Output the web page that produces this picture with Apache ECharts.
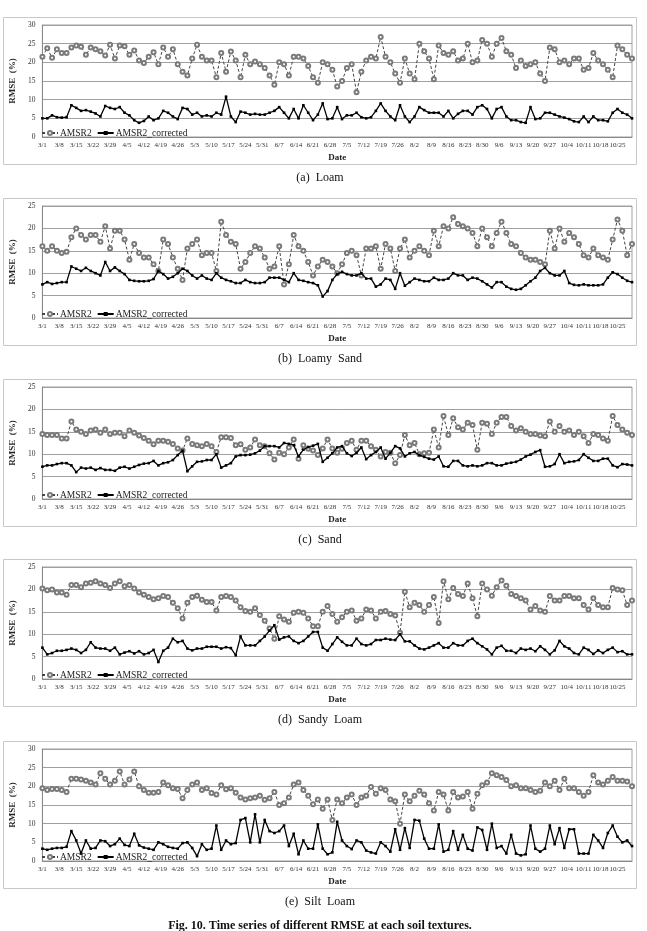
<!DOCTYPE html>
<html>
<head>
<meta charset="utf-8">
<title>Fig. 10 RMSE time series</title>
<script src="https://cdn.jsdelivr.net/npm/echarts@6/dist/echarts.min.js"></script>
<style>
  html, body { margin: 0; padding: 0; background: #fff; }
  #main { width: 647px; height: 931px; }
</style>
</head>
<body>
<div id="main"></div>
<script>
// one value every 2 days, starting 3/1 (day 0) and ending 10/31 (day 244)
var DAY_STEP = 2;

var loamAmsr = [21.5,23.8,21.2,23.5,22.5,22.5,24,24.5,24.2,22,
  24,23.5,23,21.8,24.7,21,24.5,24.3,22,23.2,
  20.5,19.8,21.5,22.7,19.5,24,21.5,23.5,19.5,17.5,
  16.5,21,24.7,21.5,20.5,20.5,16,22.5,17.5,22.9,
  20.5,16,22,19.5,20.2,19.5,18.5,16.5,14,20,
  19.5,16.5,21.5,21.5,21,19,16,14.5,20,19.5,18,
  13.5,15,18.5,19.5,12,17.5,20.5,21.5,21,26.8,
  21.5,20,17,14.5,21,17,15.5,25,23,21,
  15.5,24.5,22.5,22,23,20.5,21,25,20,20.5,
  26,25,21.5,25,26.5,23,22,18.5,20.5,19,
  19.5,20,17,15,24,23.5,20,20.5,19.5,21,
  21,18,18.5,22.5,20.5,19.5,18,16,24.5,23.5,
  22,21];
var loamCorr = [5,5,5.8,5.3,5.2,5.3,8.5,7.8,7,7.2,
  6.8,6.3,5.5,8.3,7.8,7.5,8,6.5,5.8,4.5,
  3.8,4.3,5.5,4.5,5,7,6.5,5.5,4.8,7.8,
  7.5,6,6.5,5.5,5.8,5.5,6.5,6,10.8,5.5,
  4,6.8,6.5,6,6.2,6,6,6.5,7,8,
  6.5,5,7.5,5,8.5,6.5,4.5,6,9,4.8,5,
  8,4.8,5.8,5.8,6.5,5.3,5,5.3,7,9,
  7,5.5,4.5,8.5,5.5,4,5.5,8,7.2,6.5,
  6.5,6.5,5.5,7,5,6.2,7,7,6,8,
  8.5,7.5,5,7.5,8,5.5,4.5,4.5,4,3.8,
  8,4.8,5,6.5,6.5,6,5.5,5.2,4.8,4.2,
  4,5.5,4,5.5,4.5,4.5,4.2,6.5,7.5,6.5,
  6,5];

var loamySandAmsr = [16,15,16,15,14.5,14.8,18,20,18.5,17.5,
  18.5,18.5,17,20.5,15.5,19.5,19.5,17.5,13,16.5,
  14.5,13.5,13.5,12,10.5,17.5,16.5,13.5,11,8.5,
  15.5,16.5,17.5,14,14.5,14.5,10.5,21.5,18.5,17,
  16.5,11,12.5,14.5,16,15.5,13.5,11,11.5,16,
  7.5,12,18.5,16,15,12.5,9.5,11.5,13,12.5,11.5,
  10,12,14.5,15,14,9.5,15.5,15.5,16,11,
  16.5,15.5,10.5,15.5,17.5,13.5,15,16,15,14,
  19.5,16,20.5,20,22.5,21,20.5,20,19,16,
  20,18,16,19,21.5,19,16.5,16,14.5,13.5,
  13,13,12.5,12,19.5,15.5,20,17,19,18,
  16.5,14,13.5,15.5,14,13.5,13,17.5,22,19.5,
  14,16.5];
var loamySandCorr = [7.5,8,7.6,7.8,8,8,11.5,11,10.5,11.2,
  10.5,10,9.5,12.5,10.5,11.3,10.5,9.8,8.5,8.3,
  8.2,8.2,8.3,8.7,10.5,9.8,8.8,9.2,10,11,
  10.5,9.5,8.8,9.5,8.8,8.5,10,9,8.5,8.2,
  7.8,7.8,8.5,8,7.8,7.8,8,9,9,9,
  8.5,8,10,8.5,8.3,8,7.8,7.3,4.8,6,8.5,
  9.8,10.3,9.8,9.5,9.5,10,8.8,8.8,7,7.5,
  8.8,8.5,6.5,10,7.2,8,8.8,8.5,8.2,8.2,
  9,8.5,8.5,8.8,10,9.5,9.5,8.5,9,8.8,
  8.2,7.5,6.8,8,8,7,6.5,6.3,6.5,7.3,
  8.2,9,10.5,11.2,10,9.5,9.5,10.5,7.8,7.4,
  7.3,7.5,7.3,7.3,7.3,7.5,9,10.2,9.8,9,
  8.3,8];

var sandAmsr = [14.5,14.3,14.3,14.3,13.5,13.5,17.3,15.5,15,14.5,
  15.3,15.5,14.8,15.5,14.5,14.8,14.8,14,15.3,14.8,
  14.2,13.6,13,12.2,13,13,12.8,12.3,11.3,10.8,
  13.5,12.3,12,11.8,12.3,11.8,10.5,13.8,13.8,13.6,
  12,12.2,11,11.5,13.3,12,11.8,10.2,8.8,10.3,
  10,11.5,13.3,9,12,11.2,10.8,9.8,11.3,13.3,11.3,
  10.3,11.2,12.5,13,11,13,13,11.8,11,9.5,
  10.5,10.3,8,9.8,14.3,12,12.5,10,10.2,10.3,
  15.5,11.5,18.5,14.3,18,16,15.5,17,16.5,11,
  17,16.8,14.5,17,18.3,18.3,16.3,15.3,15.8,15,
  14.5,14.5,14.2,14,17.3,15,16.3,15,15.3,14.3,
  15,14,12.5,14.5,14.3,13.5,13,18.5,16.5,15.5,
  14.8,14.3];
var sandCorr = [7.2,7.5,7.5,7.8,8,8,7.5,6,7,6.8,
  7,6.5,6.9,6.5,6.5,6.3,7,7.2,6.8,7.2,
  7.6,7.9,8,8.5,7.5,8,8.2,8.7,9.8,10.8,
  6.2,7.3,8.3,8.4,8.7,8.7,10,7,7.5,8,
  9.5,9.8,9.8,9.9,10.2,10.8,11.8,11.8,11.8,11.5,
  12.5,12.3,12,9.5,11,11.6,11.9,12.3,8.3,9.2,10.2,
  11.5,11.8,10.2,9.6,10.3,11.5,8.9,9.8,10.5,11.5,
  9,10.3,11.8,11.3,9.5,10.2,10.5,9.8,9.4,9,
  8.8,9.5,7.3,7.2,8.5,8.5,7.5,7.3,7.5,7.3,
  7.5,8,8,7.5,7.5,7.9,8.1,8.3,8.8,9.5,
  9.9,10.5,10.9,7.2,7.3,7.8,10,8,8.3,8.4,
  8.7,10,9.2,8.5,8.5,9,9,7.5,7.1,7.8,
  7.7,7.5];

var sandyLoamAmsr = [20.2,19.8,20,19.3,19.3,18.8,21,21,20.5,21.3,
  21.5,21.8,21.3,21,20.3,21.3,21.8,20.7,21,20.2,
  19.3,18.8,18.3,17.8,18,18.5,18.3,17,15.8,13.5,
  17,18.3,18.6,17.7,17.2,17.2,15.3,18.3,18.5,18.3,
  17.5,16,15.2,15,15.8,14.3,13,11.3,9,14,
  13.3,12.8,14.8,15,14.8,13.5,11.8,11.8,15,16.3,14.5,
  12.8,13.8,15,15.3,13,13.5,15.5,15.3,13.5,15,
  15.2,14.5,14.2,10.3,19.5,16,17,16.5,15,16.5,
  18.3,12.5,21.8,17.8,20.3,19,18.5,21.3,18,14,
  21.3,20,18.6,20.5,22,20.8,19,18.5,18,17.5,
  15.5,16.3,15.3,15,18.5,17.5,17.5,18.5,18.5,18,
  18,16.5,15.5,18,16.5,16,16,20.3,20,19.8,
  16.5,17.5];
var sandyLoamCorr = [7,5.5,5.8,6.3,6.3,6.5,6.8,6.5,5.8,6.5,
  8.2,7,6.8,6.8,6.3,7,5.5,5.9,6.2,5.7,
  6.2,5.5,5.8,6.5,3.8,6.3,7,9,8.2,8.5,
  6.8,6.4,6.8,6.8,7.2,7.2,7.2,6.8,7.1,6.9,
  5.3,9.5,7.5,7.5,7.5,8.5,9.5,10.8,12,8.8,
  9.3,9.5,8.5,8,8.5,9.5,10.5,10.5,7,6.3,7.8,
  9.3,8.3,7.5,7.5,9,7.8,7.5,7.8,8.7,8.7,
  9,8.8,8.7,10,8.4,8.4,7.5,6.8,6.6,7,
  7.5,8,7,7,8,7.5,7.5,8.5,9,8,
  7.3,6.6,5.5,7,7.4,6.3,6.3,5.8,6.8,6.5,
  6.8,6.2,7.3,6.5,5.5,6.4,8.5,7.3,6.8,5.8,
  5.5,7,6.5,5.6,6.4,5.8,6.5,7,6,6.2,
  5.5,5.5];

var siltLoamAmsr = [19.5,19,19.3,19.3,19,18.5,22,22,21.8,21.5,
  21,20.5,23.5,22,20.5,21.5,24,20.5,21.8,24,
  20,19,18.3,18.3,18.5,21,20.3,19.5,19.3,16.8,
  19,20.5,21,19,19.5,18.2,17.8,20.3,19.2,19.5,
  18.3,17,16.5,16.8,17,17.5,16.4,16.8,18.5,15,
  15.5,17,20.5,21,19,17.5,15.2,16.5,14,16.5,11,
  16.5,15.5,17,17.8,15,17,17.5,19.8,18,19.5,
  19,16.5,16,10,17.8,16,17.5,18.8,17.8,15.5,
  13.5,18.5,17.8,13.5,18.5,17,17.3,18.5,14,18,
  20.3,21,23.5,23,22.5,21.7,20,20.3,19.5,19.5,
  19,18.5,18.8,21,20,21.5,19,22,19.5,19.5,
  18.5,17.5,18.5,23,21,20.5,21.5,22.5,21.5,21.5,
  21.3,20];
var siltLoamCorr = [3.3,3,3.3,3.5,3.5,3.8,8,5.5,2,5.5,
  3.3,3.5,5.5,5.3,4,4.5,6,4.3,4,7.3,
  4.2,3.6,3.3,3,5,4.5,3.8,3.5,3.3,4.8,
  5,3.5,1.3,4.5,3,3.3,9.5,3,5.5,4.5,
  4.8,11,11.5,5,12.5,5,11,8,7.5,8,
  9.5,4,7.3,1.8,5.5,3.3,3.3,9.8,3.3,1.8,2.3,
  10.5,5.5,4,3.2,5.5,5,2.8,2.3,2,5,
  4,2.5,8.5,3,8.8,3.5,11,10.8,6,3.3,
  3.3,9.8,2.5,3,8,3,7,3.3,2.8,9,
  8.3,3,10,3.5,4,2,7,2,1.5,1.8,
  9.5,3.3,2.5,3.3,9.5,4.5,8.8,3.5,8.5,8.5,
  2,2,2,7,5.5,3.5,7.5,9.5,6.5,5,
  5.5,4];

var panelNames = ['(a)  Loam', '(b)  Loamy  Sand', '(c)  Sand', '(d)  Sandy  Loam', '(e)  Silt  Loam'];
var panelAmsr = [loamAmsr, loamySandAmsr, sandAmsr, sandyLoamAmsr, siltLoamAmsr];
var panelCorr = [loamCorr, loamySandCorr, sandCorr, sandyLoamCorr, siltLoamCorr];
var panelMax = [30, 25, 25, 25, 30];
var panelTop = [25, 206, 387, 567, 749];
var PLOT_H = 112;

var serif = "'Liberation Serif', 'DejaVu Serif', serif";

function toPairs(arr) {
  return arr.map(function (v, i) { return [i * DAY_STEP, v]; });
}
function dayLabel(v) {
  if (v % 7 !== 0) return '';
  var d = new Date(2013, 2, 1 + v);
  return (d.getMonth() + 1) + '/' + d.getDate();
}

var grids = [], xAxes = [], yAxes = [], series = [], legends = [], graphics = [];
for (var p = 0; p < 5; p++) {
  var py = panelTop[p];
  grids.push({ left: 32, right: 15, top: py, height: PLOT_H, show: true, borderColor: '#a0a0a0', borderWidth: 1 });
  xAxes.push({
    type: 'value', gridIndex: p, min: 0, max: 244, interval: 7,
    name: 'Date', nameLocation: 'middle', nameGap: 16,
    nameTextStyle: { fontFamily: serif, fontWeight: 'bold', fontSize: 9, color: '#222' },
    axisLine: { show: true, lineStyle: { color: '#888' } },
    axisTick: { show: false },
    splitLine: { show: false },
    axisLabel: { formatter: dayLabel, fontFamily: serif, fontSize: 7, color: '#333', margin: 5 }
  });
  yAxes.push({
    type: 'value', gridIndex: p, min: 0, max: panelMax[p], interval: 5,
    name: 'RMSE  (%)', nameLocation: 'middle', nameGap: 18, nameRotate: 90,
    nameTextStyle: { fontFamily: serif, fontWeight: 'bold', fontSize: 9, color: '#222' },
    axisLine: { show: true, lineStyle: { color: '#888' } },
    axisTick: { show: false },
    splitLine: { show: true, lineStyle: { color: '#a0a0a0', width: 1 } },
    axisLabel: { fontFamily: serif, fontSize: 7.5, color: '#333', margin: 7 }
  });
  series.push({
    name: 'AMSR2', type: 'line', xAxisIndex: p, yAxisIndex: p,
    data: toPairs(panelAmsr[p]),
    symbol: 'emptyCircle', symbolSize: 4,
    itemStyle: { color: '#7a7a7a', borderWidth: 0.7 },
    lineStyle: { color: '#444', width: 1, type: [3, 2] },
    z: 2
  });
  series.push({
    name: 'AMSR2_corrected', type: 'line', xAxisIndex: p, yAxisIndex: p,
    data: toPairs(panelCorr[p]),
    symbol: 'rect', symbolSize: 2.6,
    itemStyle: { color: '#000' },
    lineStyle: { color: '#000', width: 1.3 },
    z: 3
  });
  legends.push({
    left: 36, top: py + PLOT_H - 14, itemGap: 5, itemWidth: 16, itemHeight: 5,
    textStyle: { fontFamily: serif, fontSize: 9.5, color: '#222', padding: [0, 0, 0, -3] },
    data: ['AMSR2', 'AMSR2_corrected']
  });
  // outer chart box and caption
  graphics.push({
    type: 'rect', shape: { x: 3.5, y: py - 7.5, width: 633, height: 147 },
    style: { fill: 'none', stroke: '#c8c8c8', lineWidth: 1 }, silent: true
  });
  graphics.push({
    type: 'text', x: 320, y: py + 153,
    style: { text: panelNames[p], font: '12px ' + serif, fill: '#111', textAlign: 'center', textVerticalAlign: 'middle' }
  });
}
graphics.push({
  type: 'text', x: 320, y: 926,
  style: { text: 'Fig. 10. Time series of different RMSE at each soil textures.', font: 'bold 12px ' + serif, fill: '#111', textAlign: 'center', textVerticalAlign: 'middle' }
});

var chart = echarts.init(document.getElementById('main'));
chart.setOption({
  animation: false,
  backgroundColor: '#fff',
  grid: grids,
  xAxis: xAxes,
  yAxis: yAxes,
  legend: legends,
  series: series,
  graphic: graphics
});
</script>
</body>
</html>
